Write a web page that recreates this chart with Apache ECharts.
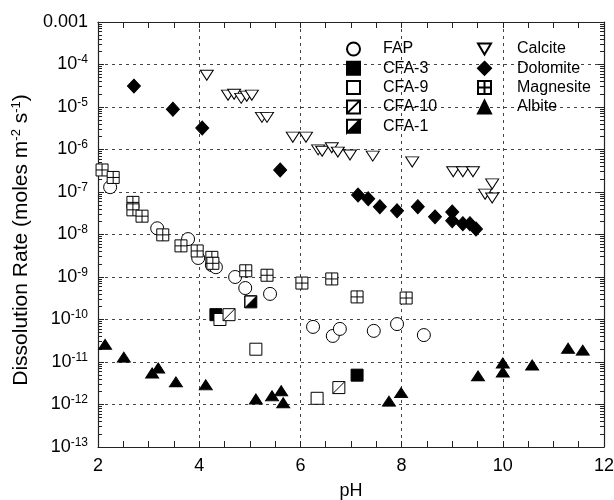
<!DOCTYPE html>
<html><head><meta charset="utf-8">
<script src="https://cdn.jsdelivr.net/npm/echarts@6/dist/echarts.min.js"></script>
<style>html,body{margin:0;padding:0;background:#fff}#c{width:614px;height:500px}</style>
</head><body><div id="c"></div>
<script>
// ---- data: [pH, dissolution rate] ----
const fap = [[2.24,1.3e-7],[3.17,1.4e-8],[3.78,7.8e-9],[3.98,2.8e-9],[4.25,1.9e-9],[4.33,1.7e-9],[4.71,1.0e-9],[4.91,5.5e-10],[5.40,4.0e-10],[6.25,6.7e-11],[6.64,4.1e-11],[6.78,6.0e-11],[7.45,5.4e-11],[7.91,7.8e-11],[8.44,4.3e-11]];
const cfa3 = [[4.33,1.3e-10],[7.12,4.9e-12]];
const cfa9 = [[4.41,1.0e-10],[5.12,2.0e-11],[6.33,1.4e-12]];
const cfa10 = [[4.59,1.3e-10],[6.76,2.5e-12]];
const cfa1 = [[5.02,2.6e-10]];
const calcite = [[4.15,5.6e-5],[4.57,1.9e-5],[4.69,2.0e-5],[4.83,1.6e-5],[4.94,1.8e-5],[5.04,1.9e-5],[5.24,5.7e-6],[5.34,5.7e-6],[5.85,1.95e-6],[6.11,1.95e-6],[6.35,9.8e-7],[6.43,9.1e-7],[6.62,1.1e-6],[6.74,8.7e-7],[6.98,7.4e-7],[7.43,7.0e-7],[8.21,5.1e-7],[9.02,3.0e-7],[9.21,3.0e-7],[9.41,3.0e-7],[9.79,1.55e-7],[9.65,8.9e-8],[9.79,7.2e-8]];
const dolomite = [[2.71,3.1e-5],[3.48,8.9e-6],[4.06,3.2e-6],[5.60,3.3e-7],[7.14,8.5e-8],[7.34,6.9e-8],[7.57,4.5e-8],[7.91,3.6e-8],[8.32,4.5e-8],[8.66,2.6e-8],[9.00,3.4e-8],[9.00,2.1e-8],[9.21,1.8e-8],[9.35,1.8e-8],[9.47,1.35e-8]];
const magnesite = [[2.08,3.3e-7],[2.30,2.2e-7],[2.69,5.7e-8],[2.69,3.8e-8],[2.87,2.7e-8],[3.28,9.8e-9],[3.64,5.4e-9],[3.96,4.1e-9],[4.25,2.9e-9],[4.27,2.1e-9],[4.92,1.4e-9],[5.34,1.1e-9],[6.03,7.2e-10],[6.62,9.0e-10],[7.12,3.4e-10],[8.09,3.2e-10]];
const albite = [[2.14,2.6e-11],[2.51,1.3e-11],[3.07,5.5e-12],[3.19,7.2e-12],[3.54,3.4e-12],[4.13,2.9e-12],[5.12,1.35e-12],[5.44,1.6e-12],[5.62,2.1e-12],[5.66,1.1e-12],[7.75,1.2e-12],[7.99,1.9e-12],[9.51,4.7e-12],[10.0,9.5e-12],[10.0,5.8e-12],[10.58,8.5e-12],[11.29,2.1e-11],[11.58,1.9e-11]];
const legendCol1 = ['FAP','CFA-3','CFA-9','CFA-10','CFA-1'];
const legendCol2 = ['Calcite','Dolomite','Magnesite','Albite'];
const xMin = 2, xMax = 12, xStep = 2;
const yMin = 1e-13, yMax = 1e-3;

const FONT = '"Liberation Sans", Arial, Helvetica, sans-serif';
const minorY = [];
for (let e = -13; e < -3; e++) for (let k = 2; k <= 9; k++) minorY.push(+(k * Math.pow(10, e)).toPrecision(3));

const SYM = {
  crossSq: 'path://M0,0 L10,0 L10,10 L0,10 Z M5,0 L5,10 M0,5 L10,5',
  diagSq: 'path://M0,0 L10,0 L10,10 L0,10 Z M0,10 L10,0',
  halfSq: 'path://M0,0 L10,0 L10,10 L0,10 Z M0,0 L0,10 L10,0 Z',
  downTri: 'path://M0,0 L10,0 L5,8.5 Z'
};
function sc(name, data, symbol, size, fill, z) {
  return {name, type:'scatter', data, symbol, symbolSize:size, xAxisIndex:0, yAxisIndex:0, z: z||2,
    itemStyle:{color:fill, borderColor:'#000', borderWidth:1, opacity:1}, emphasis:{disabled:true}, animation:false};
}
const supRich = {sup:{fontSize:12, fontFamily:FONT, color:'#000', padding:[0,0,9,0]}};
const titleRich = {sup:{fontSize:13, fontFamily:FONT, color:'#000', padding:[0,0,10,0]}};
const grid = {left:98, right:10, top:22, bottom:53, containLabel:false, outerBoundsMode:'none'};
const xBase = {type:'value', min:xMin, max:xMax, interval:xStep, gridIndex:0,
  axisLine:{show:true, lineStyle:{color:'#222', width:1.2}},
  axisTick:{show:true, inside:true, length:6, lineStyle:{color:'#222'}},
  minorTick:{show:true, splitNumber:4, length:6, lineStyle:{color:'#222'}}};
const yBase = {type:'log', logBase:10, min:yMin, max:yMax, interval:1, gridIndex:0};
const option = {
  backgroundColor:'#fff',
  animation:false,
  grid,
  xAxis:[
    Object.assign({}, xBase, {position:'bottom', name:'pH', nameLocation:'middle', nameGap:35,
      nameTextStyle:{fontSize:18, fontFamily:FONT, color:'#000'},
      axisLabel:{fontSize:18, fontFamily:FONT, color:'#000', margin:10},
      splitLine:{show:true, lineStyle:{color:'#444', type:[3,4], width:1}}}),
    Object.assign({}, xBase, {position:'top', axisLabel:{show:false}, splitLine:{show:false}})
  ],
  yAxis:[
    Object.assign({}, yBase, {position:'left',
      name:'Dissolution Rate (moles m{sup|-2} s{sup|-1})', nameLocation:'middle', nameGap:62, nameRotate:90,
      nameTextStyle:{fontSize:21, fontFamily:FONT, color:'#000', rich:titleRich, padding:[0,11,0,0]},
      axisLine:{show:true, lineStyle:{color:'#222', width:1.2}},
      axisTick:{show:true, inside:true, length:6, lineStyle:{color:'#222'}},
      axisLabel:{fontSize:18, fontFamily:FONT, color:'#000', margin:10,
        formatter: v => { const e = Math.round(Math.log10(v)); return e === -3 ? '0.001' : '10{sup|' + e + '}'; },
        rich: supRich},
      splitLine:{show:true, lineStyle:{color:'#444', type:[3,4], width:1}}}),
    Object.assign({}, yBase, {position:'left', axisLine:{show:false}, axisLabel:{show:false}, splitLine:{show:false},
      axisTick:{show:true, inside:true, length:4, customValues:minorY, lineStyle:{color:'#222'}}}),
    Object.assign({}, yBase, {position:'right', axisLine:{show:true, lineStyle:{color:'#222', width:1.2}}, axisLabel:{show:false}, splitLine:{show:false},
      axisTick:{show:true, inside:true, length:6, lineStyle:{color:'#222'}}}),
    Object.assign({}, yBase, {position:'right', axisLine:{show:false}, axisLabel:{show:false}, splitLine:{show:false},
      axisTick:{show:true, inside:true, length:4, customValues:minorY, lineStyle:{color:'#222'}}})
  ],
  legend:[
    {data:legendCol1, orient:'vertical', left:346, top:41, padding:0, itemWidth:13, itemHeight:13, itemGap:3.3, selectedMode:false,
      textStyle:{fontSize:16, fontFamily:FONT, color:'#000', lineHeight:16, padding:[0,0,0,18]}},
    {data:legendCol2, orient:'vertical', left:477, top:41, padding:0, itemWidth:13, itemHeight:13, itemGap:3.3, selectedMode:false,
      textStyle:{fontSize:16, fontFamily:FONT, color:'#000', lineHeight:16, padding:[0,0,0,21]}}
  ],
  series:[
    sc('FAP', fap, 'circle', 13, '#fff'),
    sc('CFA-3', cfa3, 'rect', 12, '#000'),
    sc('CFA-9', cfa9, 'rect', 12, '#fff'),
    sc('CFA-10', cfa10, SYM.diagSq, 12, '#fff'),
    sc('CFA-1', cfa1, SYM.halfSq, 12, '#000'),
    sc('Calcite', calcite, SYM.downTri, [13,10], '#fff'),
    sc('Dolomite', dolomite, 'diamond', [13,14], '#000'),
    sc('Magnesite', magnesite, SYM.crossSq, 12, '#fff'),
    sc('Albite', albite, 'triangle', [13,10], '#000')
  ]
};
const chart = echarts.init(document.getElementById('c'), null, {renderer:'canvas'});
chart.setOption(option);
</script></body></html>
